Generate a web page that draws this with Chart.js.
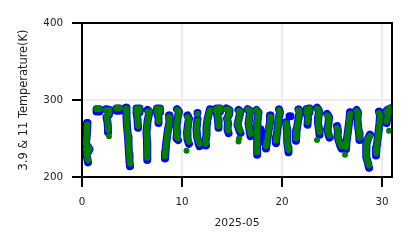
<!DOCTYPE html>
<html>
<head>
<meta charset="utf-8">
<script src="https://cdn.jsdelivr.net/npm/chart.js@4"></script>
<style>
html,body{margin:0;padding:0;background:#fff;}
#wrap{width:411px;height:248px;}
</style>
</head>
<body>
<div id="wrap"><canvas id="c" width="411" height="248"></canvas></div>
<script>
// x tick labels (day of month) and y tick labels (K)
const xTicks = [0, 10, 20, 30];
const yTicks = [200, 300, 400];
const xTitle = "2025-05";
const yTitle = "3.9 & 11 Temperature(K)";

// observation times (day of 2025-05), null separates observation passes
const times = [
  0.55,0.5,0.45,0.35,0.55,0.75,0.6,0.4,0.5,0.6,null,
  1.45,1.75,1.75,1.45,null,
  2.4,2.75,2.7,2.45,2.55,2.6,2.6,null, 2.7,null,
  3.45,3.75,3.75,3.45,null,
  4.4,4.45,4.5,4.6,4.65,4.7,4.75,4.8,null,
  5.45,5.75,5.75,5.45,5.55,5.6,null,
  6.55,6.75,6.55,6.45,6.5,6.5,6.55,null,
  7.5,7.8,7.8,7.5,7.65,7.65,null,
  8.7,8.75,8.6,8.5,8.4,8.35,8.3,null,
  9.5,9.7,9.55,9.45,9.5,9.45,9.6,null,
  10.55,10.7,10.6,10.5,10.55,10.7,null, 10.45,null,
  11.55,null, 11.55,11.45,11.5,11.65,11.75,null,
  12.8,12.7,12.55,12.45,12.45,12.35,12.4,null,
  13.45,13.8,13.8,13.45,13.6,13.65,null,
  14.45,14.75,14.7,14.5,14.6,14.55,14.65,null,
  15.65,15.85,15.7,15.55,15.7,15.85,null, 15.7,null, 15.65,null,
  16.55,16.8,16.75,16.65,16.75,16.85,null,
  17.45,17.65,17.55,17.5,17.55,17.5,17.5,null, 17.85,17.9,null,
  18.85,18.8,18.65,18.55,18.45,18.4,null,
  19.7,19.8,19.65,19.55,19.45,19.4,null,
  20.4,20.5,20.55,20.5,20.6,20.65,null, 20.75,20.85,null,
  21.65,21.75,21.6,21.45,21.4,null,
  22.45,22.75,22.75,22.45,22.6,22.55,null,
  23.5,23.7,23.65,23.6,23.7,23.75,null, 23.5,null,
  24.5,24.7,24.65,24.55,24.65,24.75,null,
  25.5,25.6,25.55,25.7,25.85,25.95,null,
  26.8,26.75,26.65,26.55,26.45,26.4,null, 26.3,null,
  27.45,27.6,27.55,27.6,27.7,27.75,null,
  28.8,28.6,28.45,28.4,28.45,28.6,28.7,null,
  29.7,29.8,29.75,29.65,29.55,29.45,29.4,null,
  30.45,30.65,30.8,30.55,30.45,null, 30.7,null
];

// 11 micron brightness temperature (K)
const temp11 = [
  268,258,250,243,240,236,232,236,228,222,null,
  289,289,288,288,null,
  287,287,282,279,272,265,261,null, 253,null,
  290,290,289,289,null,
  289,278,265,252,242,232,222,217,null,
  289,289,285,285,276,266,null,
  285,285,272,258,245,232,225,null,
  289,289,285,285,278,272,null,
  278,270,262,252,242,232,227,null,
  287,285,276,266,258,252,250,null,
  278,275,268,258,250,246,null, 234,null,
  282,null, 273,263,253,246,243,null,
  287,283,275,265,255,247,243,null,
  289,290,286,286,276,266,null,
  288,287,281,276,270,263,260,null,
  286,285,277,268,263,260,null, 250,null, 246,null,
  288,286,278,270,262,256,null,
  287,284,272,258,246,238,232,null, null,null,null,
  278,270,260,250,243,240,null,
  287,284,274,262,252,247,null,
  270,262,255,245,238,235,null, null,null,null,
  287,284,272,260,250,null,
  288,289,285,285,278,271,null,
  289,286,278,270,262,258,null, 248,null,
  280,278,270,262,256,254,null,
  264,260,253,246,242,240,null,
  282,275,265,255,245,239,null, 229,null,
  286,284,275,266,258,251,null,
  253,250,243,235,226,219,215,null,
  283,280,270,258,248,238,231,null,
  285,288,290,278,272,null, 260,null
];

// 3.9 micron brightness temperature (K)
const temp39 = [
  270,258,250,243,240,236,232,236,226,219,null,
  288,288,285,285,null,
  288,287,281,278,271,264,258,null, null,null,
  289,289,286,286,null,
  290,278,265,252,242,230,220,214,null,
  289,289,284,284,275,264,null,
  287,285,272,258,245,232,222,null,
  289,289,284,284,277,270,null,
  280,271,262,252,242,232,224,null,
  288,285,276,266,258,250,248,null,
  280,276,268,258,249,243,null, null,null,
  283,null, 275,263,253,244,240,null,
  288,283,275,265,255,246,241,null,
  289,289,285,285,275,264,null,
  289,287,281,276,270,262,257,null,
  287,285,277,268,262,257,null, null,null, null,null,
  288,286,278,270,261,253,null,
  287,284,272,258,246,237,229,null, 262,246,null,
  280,271,260,250,242,237,null,
  288,284,274,262,252,244,null,
  271,262,255,245,238,232,null, 279,279,null,
  288,284,272,260,247,null,
  288,289,284,284,277,268,null,
  290,286,278,270,262,255,null, null,null,
  282,278,270,262,255,251,null,
  266,260,253,246,240,237,null,
  284,275,265,255,245,236,null, null,null,
  287,284,275,266,257,248,null,
  255,250,243,235,226,218,212,null,
  285,280,270,258,248,238,228,null,
  286,288,289,277,270,null, null,null
];

function toPoints(ts, vs) {
  const out = [];
  let lastT = 0;
  for (let i = 0; i < ts.length; i++) {
    const t = ts[i] == null ? lastT : ts[i];
    lastT = t;
    out.push({x: t, y: (ts[i] == null || vs[i] == null) ? null : vs[i]});
  }
  return out;
}

const framePlugin = {
  id: 'frame',
  afterDatasetsDraw(chart) {
    const {ctx, chartArea: a} = chart;
    ctx.save();
    ctx.strokeStyle = '#000';
    ctx.lineWidth = 2;
    ctx.strokeRect(a.left, a.top, a.right - a.left, a.bottom - a.top);
    ctx.restore();
  }
};

const tickFont = {family: "DejaVu Sans", size: 10.3};
const xTitleFont = {family: "DejaVu Sans", size: 10.8};
const yTitleFont = {family: "DejaVu Sans", size: 11.4};

new Chart(document.getElementById('c'), {
  type: 'line',
  data: {
    datasets: [
      {
        label: '11',
        data: toPoints(times, temp11),
        borderColor: '#008000',
        backgroundColor: '#008000',
        borderWidth: 6,
        borderCapStyle: 'round',
        borderJoinStyle: 'round',
        pointRadius: 2.3,
        pointBorderWidth: 0,
        spanGaps: false,
        tension: 0,
        order: 0
      },
      {
        label: '3.9',
        data: toPoints(times, temp39),
        borderColor: '#0000ff',
        backgroundColor: '#0000ff',
        borderWidth: 8,
        borderCapStyle: 'round',
        borderJoinStyle: 'round',
        pointRadius: 2.3,
        pointBorderWidth: 0,
        spanGaps: false,
        tension: 0,
        order: 1
      }
    ]
  },
  options: {
    responsive: false,
    animation: false,
    events: [],
    layout: {padding: {top: 23, right: 19, left: 0, bottom: 0}},
    plugins: {legend: {display: false}, tooltip: {enabled: false}},
    scales: {
      x: {
        type: 'linear',
        min: 0, max: 31,
        afterFit(s) { s.height = 71; },
        afterBuildTicks(s) { s.ticks = xTicks.map(v => ({value: v})); },
        grid: {color: '#ebebeb', lineWidth: 2, tickColor: '#000', tickWidth: 2, tickLength: 10, drawTicks: true},
        border: {display: true, color: '#000', width: 2},
        ticks: {font: tickFont, color: '#222', padding: 9, maxRotation: 0, autoSkip: false},
        title: {display: true, text: xTitle, font: xTitleFont, color: '#222', padding: {top: 0, bottom: 18.8}}
      },
      y: {
        type: 'linear',
        min: 200, max: 400,
        afterFit(s) { s.width = 82; },
        afterBuildTicks(s) { s.ticks = yTicks.map(v => ({value: v})); },
        grid: {color: '#ebebeb', lineWidth: 2, tickColor: '#000', tickWidth: 2, tickLength: 10, drawTicks: true},
        border: {display: true, color: '#000', width: 2},
        ticks: {font: tickFont, color: '#222', padding: 9, autoSkip: false},
        title: {display: true, text: yTitle, font: yTitleFont, color: '#222', padding: {top: 17.2, bottom: 0}}
      }
    }
  },
  plugins: [framePlugin]
});
</script>
</body>
</html>
